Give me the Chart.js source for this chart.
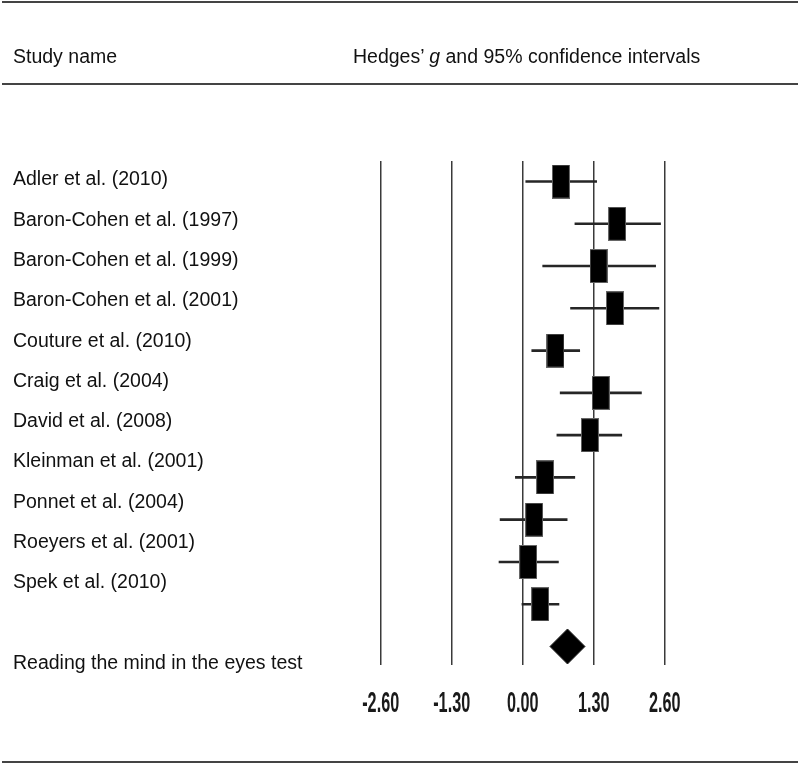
<!DOCTYPE html>
<html>

<head>
	<title>Forest plot</title>
	<meta charset="UTF-8">
	<script src="https://cdn.jsdelivr.net/npm/chart.js@4.4.1/dist/chart.umd.min.js"></script>
	<style>
		body { margin: 0; background: #fff; }
		#wrap { position: relative; width: 800px; height: 763px; font-family: 'Liberation Sans', Arial, sans-serif; color: #111; }
		#plot { position: absolute; left: 0; top: 0; }
		.rule { position: absolute; left: 2px; width: 796px; height: 2px; background: #444; }
		.head { position: absolute; top: 44px; line-height: 24px; font-size: 19.5px; white-space: nowrap; }
	</style>
</head>

<body>
	<div id="wrap">
		<canvas id="plot" width="800" height="763"></canvas>
		<div class="rule" style="top:1px"></div>
		<div class="head" style="left:13px">Study name</div>
		<div class="head" style="left:353px">Hedges’ <i>g</i> and 95% confidence intervals</div>
		<div class="rule" style="top:83px"></div>
		<div class="rule" style="top:761px"></div>
	</div>

	<script>
		// studies, top to bottom
		const studies = ['Adler et al. (2010)', 'Baron-Cohen et al. (1997)', 'Baron-Cohen et al. (1999)',
			'Baron-Cohen et al. (2001)', 'Couture et al. (2010)', 'Craig et al. (2004)', 'David et al. (2008)',
			'Kleinman et al. (2001)', 'Ponnet et al. (2004)', 'Roeyers et al. (2001)', 'Spek et al. (2010)'];
		const hedgesG = [0.70, 1.73, 1.39, 1.69, 0.60, 1.43, 1.23, 0.41, 0.21, 0.10, 0.32];
		const lowerCI = [0.05, 0.95, 0.36, 0.87, 0.16, 0.68, 0.62, -0.14, -0.42, -0.44, -0.02];
		const upperCI = [1.36, 2.53, 2.44, 2.50, 1.05, 2.18, 1.82, 0.96, 0.82, 0.66, 0.67];
		const summaryLabel = 'Reading the mind in the eyes test';
		const summaryG = 0.82;
		const xTicks = [-2.6, -1.3, 0, 1.3, 2.6];

		// rows: studies 1..11, summary one row further down
		const rows = studies.map((s, i) => i + 1);
		const summaryRow = studies.length + 1;
		const labelRows = rows.concat([summaryRow + 1]);
		const labelTexts = studies.concat([summaryLabel]);

		function boxImage() {
			const c = document.createElement('canvas');
			c.width = 18; c.height = 34;
			const g = c.getContext('2d');
			g.fillStyle = '#666';
			g.fillRect(0, 0, 18, 34);
			g.fillStyle = '#000';
			g.fillRect(1, 1, 16, 32);
			return c;
		}

		const whiskers = [];
		rows.forEach((r, i) => {
			whiskers.push({ x: lowerCI[i], y: r }, { x: upperCI[i], y: r }, { x: upperCI[i], y: null });
		});

		// condensed tick labels under the x axis
		const tickText = {
			id: 'tickText',
			afterDraw(chart) {
				const sx = chart.scales.x;
				const ctx = chart.ctx;
				sx.ticks.forEach(t => {
					ctx.save();
					ctx.translate(sx.getPixelForValue(t.value), sx.top + 38.5);
					ctx.scale(0.56, 1);
					ctx.font = 'bold 29px "Liberation Sans", Arial, sans-serif';
					ctx.fillStyle = '#1a1a1a';
					ctx.textAlign = 'center';
					ctx.textBaseline = 'middle';
					ctx.fillText(t.value.toFixed(2), 0, 0);
					ctx.restore();
				});
			}
		};

		new Chart(document.getElementById('plot'), {
			type: 'line',
			data: {
				datasets: [
					{
						label: 'Hedges g', type: 'scatter', order: 0,
						data: rows.map((r, i) => ({ x: hedgesG[i], y: r })),
						pointStyle: boxImage(), pointRadius: 9
					},
					{
						label: 'Summary', type: 'scatter', order: 0,
						data: [{ x: summaryG, y: summaryRow }],
						pointStyle: 'rectRot', pointRadius: 17.5,
						backgroundColor: '#000', borderColor: '#222', borderWidth: 1
					},
					{
						label: '95% CI', order: 1,
						data: whiskers, spanGaps: false,
						borderColor: '#262626', borderWidth: 2.6, pointRadius: 0, tension: 0
					}
				]
			},
			options: {
				responsive: false,
				animation: false,
				layout: { padding: { left: 13, right: 135.3, top: 161, bottom: 98 } },
				plugins: { legend: { display: false }, tooltip: { enabled: false } },
				scales: {
					x: {
						type: 'linear', min: -2.6, max: 2.6,
						afterBuildTicks: s => { s.ticks = xTicks.map(v => ({ value: v })); },
						afterFit: s => { s.height = 0; },
						ticks: { display: false },
						border: { display: false },
						grid: { color: '#3a3a3a', lineWidth: 1.5, drawTicks: false }
					},
					y: {
						type: 'linear', reverse: true, min: 0.515, max: 12.438,
						display: false
					},
					yl: {
						type: 'linear', position: 'left', reverse: true, min: 0.5285, max: 13.035,
						afterBuildTicks: s => { s.ticks = labelRows.map(v => ({ value: v })); },
						afterFit: s => { s.width = 367.7; },
						grid: { display: false },
						border: { display: false },
						ticks: {
							autoSkip: false, padding: 0, crossAlign: 'far', color: '#111',
							font: { family: "'Liberation Sans', Arial, sans-serif", size: 19.5 },
							callback: (v, i) => labelTexts[i]
						}
					}
				}
			},
			plugins: [tickText]
		});
	</script>

</body>

</html>
